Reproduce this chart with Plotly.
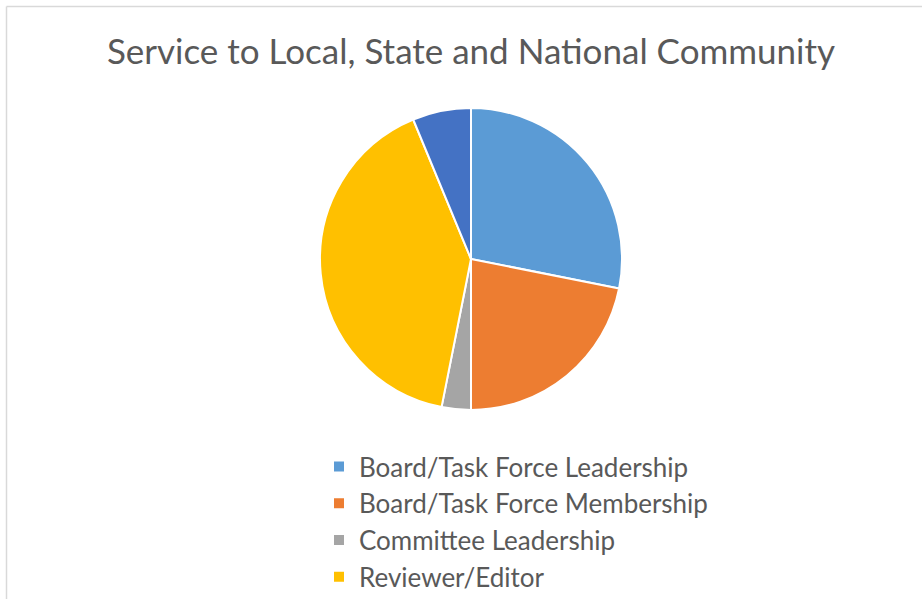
import plotly.graph_objects as go

labels = ["Board/Task Force Leadership", "Board/Task Force Membership",
          "Committee Leadership", "Reviewer/Editor", "Other"]
values = [9, 7, 1, 13, 2]
colors = ["#5B9BD5", "#ED7D31", "#A5A5A5", "#FFC000", "#4472C4"]

W, H = 922, 599
cx, cy, r = 471, 259, 151

fig = go.Figure(go.Pie(
    labels=labels, values=values, sort=False, direction="clockwise", rotation=0,
    marker=dict(colors=colors, line=dict(color="white", width=2)),
    textinfo="none", hoverinfo="label+value+percent",
    domain=dict(x=[(cx - r) / W, (cx + r) / W], y=[1 - (cy + r) / H, 1 - (cy - r) / H]),
))

fig.update_layout(
    width=W, height=H,
    margin=dict(l=0, r=0, t=0, b=0, autoexpand=False),
    paper_bgcolor="white", plot_bgcolor="white",
    font=dict(family="Lato, 'Open Sans', sans-serif", color="#595959"),
    title=dict(text="Service to Local, State and National Community",
               x=471 / W, xanchor="center", y=1 - 52 / H, yanchor="middle",
               font=dict(size=35, color="#595959")),
    legend=dict(x=319 / W, xanchor="left", y=1 - 443 / H, yanchor="top",
                font=dict(size=26, color="#595959"), bgcolor="rgba(0,0,0,0)",
                traceorder="normal"),
    shapes=[
        dict(type="line", xref="paper", yref="paper", x0=6.5 / W, x1=1.05,
             y0=1 - 6.5 / H, y1=1 - 6.5 / H, line=dict(color="#D9D9D9", width=1.5)),
        dict(type="line", xref="paper", yref="paper", x0=6.5 / W, x1=6.5 / W,
             y0=1 - 6.5 / H, y1=-0.05, line=dict(color="#D9D9D9", width=1.5)),
    ],
)

fig.write_html("out.html", config={"displayModeBar": False},
               post_script="document.body.style.margin='0';")
